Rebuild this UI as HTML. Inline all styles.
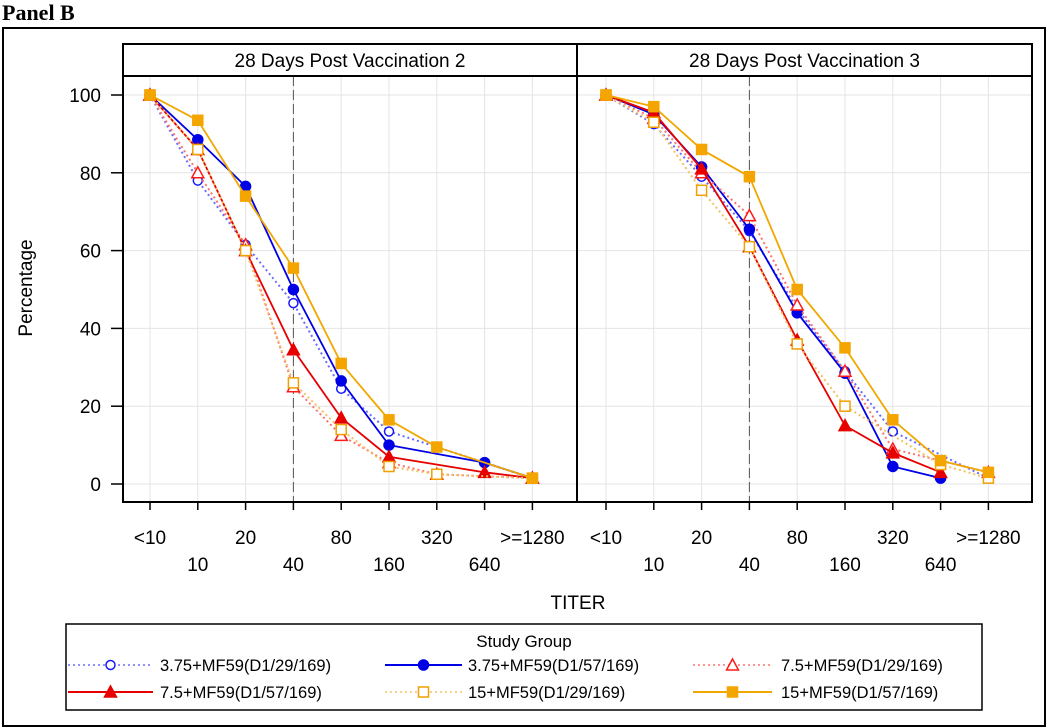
<!DOCTYPE html>
<html><head><meta charset="utf-8"><style>
body{margin:0;background:#fff;}
svg{display:block;font-family:"Liberation Sans",sans-serif;}
</style></head><body>
<svg id="chart" width="1050" height="728" viewBox="0 0 1050 728">
<text x="2" y="20" font-family="Liberation Serif" font-weight="bold" font-size="22">Panel B</text>
<rect x="3" y="28" width="1042" height="698" fill="none" stroke="#000" stroke-width="2"/>
<g id="plots"></g>
<text x="32" y="288" font-size="19" text-anchor="middle" transform="rotate(-90 32 288)">Percentage</text>
<text x="578" y="609" font-size="19" text-anchor="middle">TITER</text>
<g id="legend"></g>
</svg>
<script>
const categories = ["<10","10","20","40","80","160","320","640",">=1280"];
const yTicks = [0,20,40,60,80,100];
const panelTitles = ["28 Days Post Vaccination 2","28 Days Post Vaccination 3"];
const seriesNames = ["3.75+MF59(D1/29/169)","3.75+MF59(D1/57/169)","7.5+MF59(D1/29/169)","7.5+MF59(D1/57/169)","15+MF59(D1/29/169)","15+MF59(D1/57/169)"];
const v2_375_29 = [100,78,61.5,46.5,24.5,13.5,null,null,1.5];
const v2_375_57 = [100,88.5,76.5,50,26.5,10,null,5.5,1.5];
const v2_75_29 = [100,80,61.5,25,12.5,5.5,2.5,null,1.5];
const v2_75_57 = [100,86,60,34.5,17,7,null,3,1.5];
const v2_15_29 = [100,86,60,26,14,4.5,2.5,null,1.5];
const v2_15_57 = [100,93.5,74,55.5,31,16.5,9.5,null,1.5];
const v3_375_29 = [100,92.5,79,65,45,29,13.5,null,1.5];
const v3_375_57 = [100,95,81.5,65.5,44,28.5,4.5,1.5,null];
const v3_75_29 = [100,94,80,69,46,29,9,null,3];
const v3_75_57 = [100,95.5,81,61,37,15,8,3,null];
const v3_15_29 = [100,93,75.5,61,36,20,null,5,1.5];
const v3_15_57 = [100,97,86,79,50,35,16.5,6,3];

const NS="http://www.w3.org/2000/svg";
function mk(tag,attrs,parent){const e=document.createElementNS(NS,tag);for(const k in attrs)e.setAttribute(k,attrs[k]);parent.appendChild(e);return e;}
const styles=[
 {c:"#1a1aff",lc:"#6b6bff",dash:"2,3",m:"circle",fill:false},
 {c:"#0000e6",lc:"#0000e6",dash:"",m:"circle",fill:true},
 {c:"#ff1a1a",lc:"#ff7070",dash:"2,3",m:"tri",fill:false},
 {c:"#e60000",lc:"#e60000",dash:"",m:"tri",fill:true},
 {c:"#f0a000",lc:"#f5c060",dash:"2,3",m:"sq",fill:false},
 {c:"#f5a500",lc:"#f0a800",dash:"",m:"sq",fill:true}];
const panels=[{x0:123,x1:577,first:150,data:[v2_375_29,v2_375_57,v2_75_29,v2_75_57,v2_15_29,v2_15_57]},
              {x0:577,x1:1032,first:606,data:[v3_375_29,v3_375_57,v3_75_29,v3_75_57,v3_15_29,v3_15_57]}];
const yTop=76,yBot=502;
function yS(v){return 484-(v/100)*389;}
function marker(g,st,x,y){
  const f=st.fill?st.c:"#fff";let e;
  if(st.m==="circle")e=mk("circle",{cx:x,cy:y,r:st.fill?5:4.5,fill:f,stroke:st.c,"stroke-width":1.5},g);
  else if(st.m==="sq")e=mk("rect",{x:x-5,y:y-5,width:10,height:10,fill:f,stroke:st.c,"stroke-width":1.5},g);
  else e=mk("polygon",{points:`${x},${y-6} ${x+6},${y+5} ${x-6},${y+5}`,fill:f,stroke:st.c,"stroke-width":1.5},g);
  return e;
}
const plots=document.getElementById("plots");
panels.forEach((p,pi)=>{
  const xS=i=>p.first+i*47.8;
  const g=mk("g",{},plots);
  
  
  const h=mk("rect",{x:p.x0,y:44,width:p.x1-p.x0,height:32,fill:"#fff",stroke:"#000","stroke-width":2},g);
  
  
  const ht=mk("text",{x:(p.x0+p.x1)/2,y:67,"font-size":19,"text-anchor":"middle"},g);ht.textContent=panelTitles[pi];
  
  
  yTicks.forEach(t=>{const l=mk("line",{x1:p.x0,x2:p.x1,y1:yS(t),y2:yS(t),stroke:"#e4e4e4"},g);
    
    });
  categories.forEach((c,i)=>{const l=mk("line",{x1:xS(i),x2:xS(i),y1:yTop,y2:yBot,stroke:"#e4e4e4"},g);
    
    });
  const ref=mk("line",{x1:xS(3),x2:xS(3),y1:yTop,y2:yBot,stroke:"#555","stroke-dasharray":"10,4","stroke-width":1},g);
  
  
  const fr=mk("rect",{x:p.x0,y:yTop,width:p.x1-p.x0,height:yBot-yTop,fill:"none",stroke:"#000","stroke-width":2},g);
  
  
  categories.forEach((c,i)=>{
    const tk=mk("line",{x1:xS(i),x2:xS(i),y1:yBot,y2:yBot+8,stroke:"#000","stroke-width":1.5},g);
    
    
    const tx=mk("text",{x:xS(i),y:i%2===0?544:571,"font-size":19,"text-anchor":"middle"},g);tx.textContent=c;
    
    
  });
  if(pi===0){yTicks.forEach(t=>{
    const tk=mk("line",{x1:111,x2:123,y1:yS(t),y2:yS(t),stroke:"#000","stroke-width":1.5},g);
    
    
    const tx=mk("text",{x:101,y:yS(t)+7,"font-size":19,"text-anchor":"end"},g);tx.textContent=t;
    
    
  });}
  p.data.forEach((arr,si)=>{
    const st=styles[si];
    const sg=mk("g",{},g);
    
    
    const pts=[];arr.forEach((v,i)=>{if(v!==null)pts.push([xS(i),yS(v)]);});
    const pl=mk("polyline",{points:pts.map(q=>q.join(",")).join(" "),fill:"none",stroke:st.lc,"stroke-width":st.dash?2:1.8,"stroke-dasharray":st.dash||"none"},sg);
    
    
    pts.forEach(q=>{const m=marker(sg,st,q[0],q[1]);
      
      });
  });
});
const lg=document.getElementById("legend");
const lb=mk("rect",{x:66,y:624,width:916,height:86,fill:"#fff",stroke:"#000","stroke-width":1.5},lg);


const ltitle=mk("text",{x:524,y:647,"font-size":17,"text-anchor":"middle"},lg);ltitle.textContent="Study Group";


const cols=[{l:68,r:153,t:160},{l:385,r:462,t:468},{l:693,r:772,t:781}];
seriesNames.forEach((n,i)=>{
  const c=cols[i%3],y=i<3?665:692,st=styles[i];
  const e=mk("g",{},lg);
  
  
  mk("line",{x1:c.l,x2:c.r,y1:y,y2:y,stroke:st.lc,"stroke-width":st.dash?1.5:2,"stroke-dasharray":st.dash||"none"},e);
  marker(e,st,(c.l+c.r)/2,y);
  const t=mk("text",{x:c.t,y:y+6,"font-size":16.5},e);t.textContent=n;
});
</script>
</body></html>
